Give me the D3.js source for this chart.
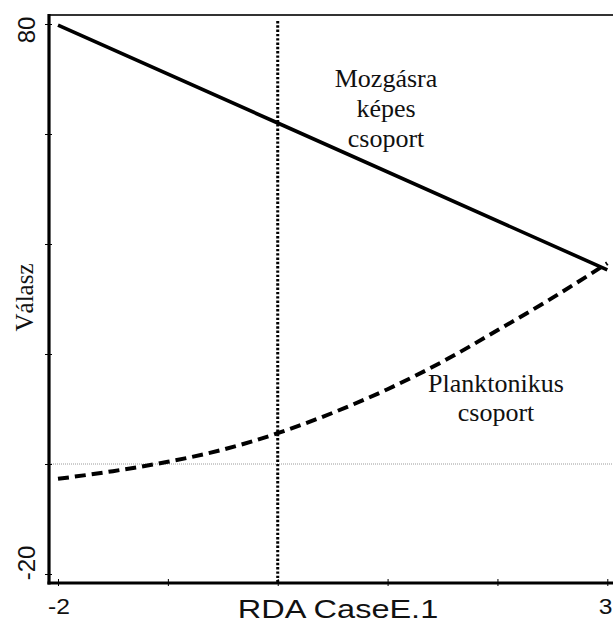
<!DOCTYPE html>
<html>
<head>
<meta charset="utf-8">
<script src="https://cdn.jsdelivr.net/npm/d3@7/dist/d3.min.js"></script>
<style>
  body { margin: 0; background: #fff; }
  svg { display: block; }
</style>
</head>
<body>
<svg id="chart" width="613" height="624"></svg>
<script>
// Response curves along the first RDA axis
const mobileScores = [-2, 0, 3];
const mobileResponse = [79.8, 62.0, 35.3];
const planktonScores = [-2, -1.5, -1, -0.5, 0, 0.5, 1, 1.5, 2, 2.5, 3];
const planktonResponse = [-2.7, -1.3, 0.4, 2.6, 5.6, 9.3, 13.6, 18.6, 24.3, 30.2, 36.5];

// Axis ticks and the labels shown on them
const xTickValues = [-2, -1, 0, 1, 2, 3];
const xTickLabels = ["-2", "", "", "", "", "3"];
const yTickValues = [-20, 0, 20, 40, 60, 80];
const yTickLabels = ["-20", "", "", "", "", "80"];

const xTitle = "RDA CaseE.1";
const yTitle = "Válasz";
const mobileLabel = ["Mozgásra", "képes", "csoport"];
const planktonLabel = ["Planktonikus", "csoport"];

const svg = d3.select("#chart");
const W = 613, H = 624;
const frame = { left: 49, right: 613, top: 15, bottom: 583 };

const x = d3.scaleLinear().domain([-2, 3]).range([58, 607.3]);
const y = d3.scaleLinear().domain([-20, 80]).range([574, 24]);

svg.append("rect").attr("width", W).attr("height", H).attr("fill", "#fff");

// zero reference line
svg.append("line")
  .attr("x1", frame.left).attr("x2", frame.right)
  .attr("y1", y(0)).attr("y2", y(0))
  .attr("stroke", "#9a9a9a").attr("stroke-width", 1)
  .attr("stroke-dasharray", "1,1");

// vertical reference at score 0
svg.append("line")
  .attr("x1", x(0)).attr("x2", x(0))
  .attr("y1", frame.top + 6).attr("y2", frame.bottom)
  .attr("stroke", "#000").attr("stroke-width", 3)
  .attr("stroke-dasharray", "2.4,1.9");

// frame: top border, left and bottom axis lines
svg.append("line")
  .attr("x1", frame.left).attr("x2", frame.right)
  .attr("y1", frame.top).attr("y2", frame.top)
  .attr("stroke", "#333").attr("stroke-width", 2);

const yAxis = d3.axisLeft(y).tickValues(yTickValues)
  .tickSize(7).tickFormat("");
const yG = svg.append("g").attr("transform", `translate(${frame.left + 3},0)`).call(yAxis);
yG.select(".domain").remove();
yG.selectAll(".tick line").attr("stroke", "#000").attr("stroke-width", 1);

const xAxis = d3.axisBottom(x).tickValues(xTickValues)
  .tickSize(7).tickFormat("");
const xG = svg.append("g").attr("transform", `translate(0,${frame.bottom - 4})`).call(xAxis);
xG.select(".domain").remove();
xG.selectAll(".tick line").attr("stroke", "#000").attr("stroke-width", 1);

svg.append("line")
  .attr("x1", frame.left).attr("x2", frame.left)
  .attr("y1", frame.top - 1).attr("y2", frame.bottom + 1.5)
  .attr("stroke", "#000").attr("stroke-width", 3.2);
svg.append("line")
  .attr("x1", frame.left - 1.5).attr("x2", frame.right)
  .attr("y1", frame.bottom).attr("y2", frame.bottom)
  .attr("stroke", "#000").attr("stroke-width", 3);

// tick labels
const sans = "'Liberation Sans', Arial, sans-serif";
const serif = "'Liberation Serif', 'Times New Roman', serif";

xTickValues.forEach((v, i) => {
  if (!xTickLabels[i]) return;
  const last = i === xTickValues.length - 1;
  svg.append("g")
    .attr("transform", `translate(${last ? W - 0.5 : x(v) + 1},614) scale(1.12,1)`)
    .append("text")
    .attr("text-anchor", last ? "end" : "middle")
    .attr("font-family", sans).attr("font-size", 22)
    .attr("fill", "#111")
    .text(xTickLabels[i]);
});

yTickValues.forEach((v, i) => {
  if (!yTickLabels[i]) return;
  const shift = v === 80 ? 6 : -11;
  svg.append("text")
    .attr("transform", `translate(35,${y(v) + shift}) rotate(-90)`)
    .attr("text-anchor", "middle")
    .attr("font-family", sans).attr("font-size", 24)
    .attr("fill", "#111")
    .text(yTickLabels[i]);
});

// axis titles
svg.append("g")
  .attr("transform", `translate(338,618) scale(1.25,1)`)
  .append("text")
  .attr("text-anchor", "middle")
  .attr("font-family", sans).attr("font-size", 26)
  .attr("fill", "#111")
  .text(xTitle);

svg.append("text")
  .attr("transform", `translate(33,297.5) rotate(-90)`)
  .attr("text-anchor", "middle")
  .attr("font-family", serif).attr("font-size", 25)
  .attr("fill", "#111")
  .text(yTitle);

// response curves
const line = d3.line().x(d => x(d[0])).y(d => y(d[1]));

svg.append("path")
  .datum(mobileScores.map((s, i) => [s, mobileResponse[i]]))
  .attr("d", line.curve(d3.curveLinear))
  .attr("fill", "none").attr("stroke", "#000").attr("stroke-width", 3.6);

svg.append("path")
  .datum(planktonScores.map((s, i) => [s, planktonResponse[i]]))
  .attr("d", line.curve(d3.curveMonotoneX))
  .attr("fill", "none").attr("stroke", "#000").attr("stroke-width", 4)
  .attr("stroke-dasharray", "11,6");

// group labels
function block(lines, cx, firstBaseline, step) {
  lines.forEach((t, i) => {
    svg.append("text")
      .attr("x", cx).attr("y", firstBaseline + i * step)
      .attr("text-anchor", "middle")
      .attr("font-family", serif).attr("font-size", 26)
      .attr("fill", "#111")
      .text(t);
  });
}
block(mobileLabel, 386, 87, 30);
block(planktonLabel, 496, 392, 29);
</script>
</body>
</html>
